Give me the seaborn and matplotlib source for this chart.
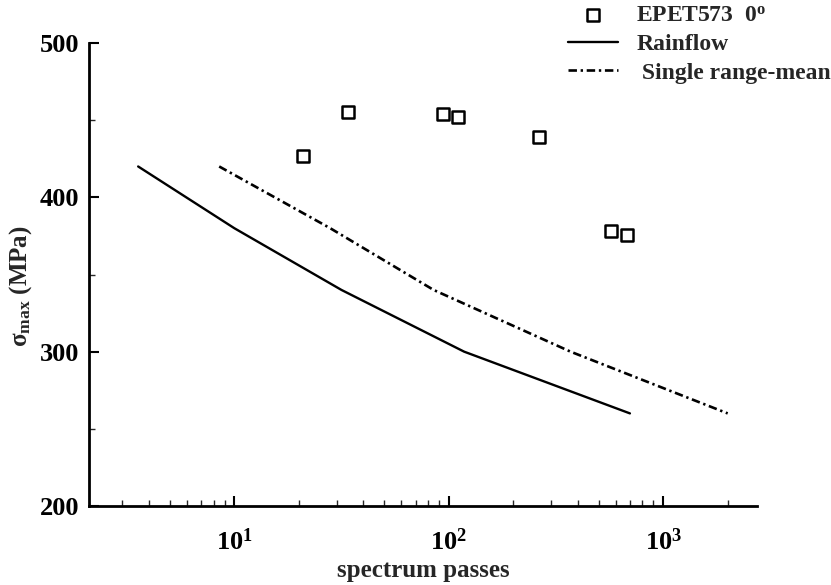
import math

import matplotlib
matplotlib.use("Agg")
import matplotlib.pyplot as plt
from matplotlib.ticker import FuncFormatter, LogLocator, MultipleLocator, NullFormatter
import pandas as pd
import seaborn as sns

# EPET573 0 deg spectrum test results
test_passes = [21, 34, 94, 111, 264, 573, 679]
test_smax = [427, 455.5, 454, 452, 439, 378, 375.5]

# predictions
rainflow_passes = [3.56, 10, 31.6, 118, 700]
rainflow_smax = [420, 380, 340, 300, 260]
srm_passes = [8.5, 28, 85, 370, 2000]
srm_smax = [420, 380, 340, 300, 260]

sns.set_style("ticks")
plt.rcParams["font.family"] = ["Liberation Serif", "DejaVu Serif"]
plt.rcParams["font.weight"] = "bold"
plt.rcParams["mathtext.fontset"] = "custom"
plt.rcParams["mathtext.rm"] = "Liberation Serif:bold"
plt.rcParams["mathtext.it"] = "Liberation Serif:bold"
plt.rcParams["mathtext.bf"] = "Liberation Serif:bold"

fig = plt.figure(figsize=(8.31, 5.85), dpi=100)
ax = fig.add_axes([89 / 831, 1 - 506 / 585, 668 / 831, 463 / 585])

tests = pd.DataFrame({"passes": test_passes, "smax": test_smax})
rf = pd.DataFrame({"passes": rainflow_passes, "smax": rainflow_smax})
srm = pd.DataFrame({"passes": srm_passes, "smax": srm_smax})

sns.lineplot(data=rf, x="passes", y="smax", ax=ax, color="black", lw=1.7,
             sort=False, estimator=None, label="Rainflow")
sns.lineplot(data=srm, x="passes", y="smax", ax=ax, color="black", lw=1.9,
             sort=False, estimator=None, label=" Single range-mean")
ax.lines[-1].set_linestyle((0, (3.2, 1.4, 0.9, 1.4)))
sns.scatterplot(data=tests, x="passes", y="smax", ax=ax, marker="s", s=75,
                facecolor="none", edgecolor="black", linewidth=1.8,
                label="EPET573  0$^\\mathrm{o}$")

ax.set_xscale("log")
ax.set_xlim(2.1, 2740)
ax.set_ylim(200, 500)
ax.yaxis.set_major_locator(MultipleLocator(100))
ax.yaxis.set_minor_locator(MultipleLocator(50))
ax.xaxis.set_major_locator(LogLocator(base=10, numticks=10))
ax.xaxis.set_minor_locator(LogLocator(base=10, subs=range(2, 10), numticks=20))
ax.xaxis.set_minor_formatter(NullFormatter())
ax.xaxis.set_major_formatter(FuncFormatter(lambda v, p: "$\\mathrm{10^{%d}}$" % round(math.log10(v))))

sns.despine(ax=ax)
for s in ["left", "bottom"]:
    ax.spines[s].set_linewidth(2)
    ax.spines[s].set_color("black")
ax.tick_params(which="major", direction="in", length=7, width=1.5, labelsize=19, pad=7, colors="black")
ax.tick_params(which="minor", direction="in", length=4, width=1)
ax.tick_params(axis="x", which="major", pad=16)
for t in ax.get_xticklabels() + ax.get_yticklabels():
    t.set_fontweight("bold")

ax.set_xlabel("spectrum passes", fontsize=18, fontweight="bold")
ax.set_ylabel("σ$_{\\mathrm{max}}$ (MPa)", fontsize=18, fontweight="bold")
ax.xaxis.set_label_coords(0.5, -(559 - 506) / 463)
ax.xaxis.label.set_va("top")
ax.yaxis.set_label_coords((34 - 89) / 668, (506 - 286) / 463)

h, l = ax.get_legend_handles_labels()
ax.get_legend().remove()
order = [2, 0, 1]
fig.legend([h[i] for i in order], [l[i] for i in order], loc="upper left",
           bbox_to_anchor=(568 / 831, 1 - 5 / 585), frameon=False,
           borderpad=0, borderaxespad=0, handlelength=2.1, handletextpad=0.8,
           labelspacing=0.3, prop={"weight": "bold", "size": 17})

fig.savefig("out.png", dpi=100)
